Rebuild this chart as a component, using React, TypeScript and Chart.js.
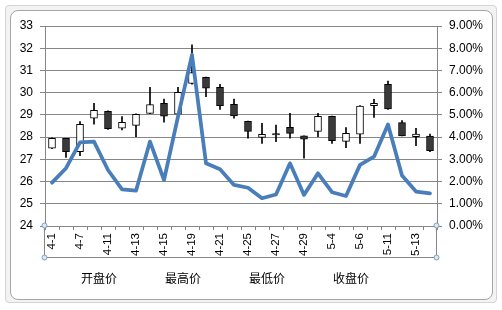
import React, { useEffect, useRef } from 'react';
import { Chart, registerables } from 'chart.js';

Chart.register(...registerables);

const categories = ['4-1', '4-6', '4-7', '4-8', '4-11', '4-12', '4-13', '4-14', '4-15', '4-18', '4-19', '4-20', '4-21', '4-22', '4-25', '4-26', '4-27', '4-28', '4-29', '5-3', '5-4', '5-5', '5-6', '5-9', '5-11', '5-12', '5-13', '5-16'];
const openPrices = [27.5, 27.95, 27.35, 28.85, 29.16, 28.4, 28.53, 29.07, 29.52, 29.03, 30.42, 30.69, 30.24, 29.48, 28.71, 27.99, 28.16, 28.44, 28.06, 28.26, 28.94, 27.81, 28.13, 29.41, 30.38, 28.65, 28.02, 28.05];
const closePrices = [27.95, 27.35, 28.58, 29.2, 28.38, 28.67, 29.03, 29.46, 28.94, 30.02, 30.9, 30.2, 29.42, 28.95, 28.26, 28.13, 28.1, 28.17, 27.91, 28.94, 27.84, 28.17, 29.4, 29.52, 29.27, 28.05, 28.14, 27.39];
const highPrices = [27.97, 27.95, 28.7, 29.52, 29.18, 28.92, 29.05, 30.24, 29.71, 30.24, 32.15, 30.7, 30.38, 29.71, 28.72, 28.62, 28.54, 29.07, 28.06, 29.07, 28.95, 28.43, 29.42, 29.7, 30.52, 28.74, 28.4, 28.14];
const lowPrices = [27.48, 27.09, 27.17, 28.58, 28.35, 28.32, 28.02, 29.05, 28.67, 29.0, 30.38, 29.82, 29.25, 28.85, 27.95, 27.72, 27.8, 27.95, 27.05, 28.02, 27.72, 27.53, 27.72, 28.89, 29.25, 28.05, 27.61, 27.35];
const swingPct = [1.95, 2.6, 3.76, 3.8, 2.52, 1.65, 1.59, 3.8, 2.07, 4.92, 7.7, 2.82, 2.55, 1.85, 1.72, 1.25, 1.42, 2.82, 1.4, 2.37, 1.52, 1.35, 2.75, 3.12, 4.57, 2.27, 1.55, 1.47];
const legendLabels = ['开盘价', '最高价', '最低价', '收盘价'];

const GRID = '#868686';

const selectionBox = {
  id: 'selectionBox',
  afterLayout(chart: any) {
    // Excel places the legend block slightly right of the plot's left edge
    const lg = chart.legend;
    if (lg) {
      lg.left += 21;
      lg.right += 21;
    }
  },
  afterDraw(chart: any) {
    const { ctx, chartArea } = chart;
    const xs = chart.scales.x;
    const l = Math.round(chartArea.left) - 0.5;
    const r = Math.round(chartArea.right) - 0.5;
    const t = Math.round(chartArea.bottom) - 0.5;
    const b = Math.round(xs.bottom) - 0.5;
    ctx.save();
    ctx.strokeStyle = GRID;
    ctx.lineWidth = 1;
    ctx.beginPath();
    ctx.moveTo(l, t);
    ctx.lineTo(l, b);
    ctx.lineTo(r, b);
    ctx.lineTo(r, t);
    ctx.stroke();
    const pts = [[l, t], [r, t], [l, b], [r, b]];
    pts.forEach(([x, y]) => {
      ctx.beginPath();
      ctx.arc(x, y, 2.5, 0, Math.PI * 2);
      ctx.fillStyle = '#dce6f2';
      ctx.fill();
      ctx.strokeStyle = '#7f9db9';
      ctx.stroke();
    });
    ctx.restore();
  },
};

export default function App() {
  const ref = useRef<HTMLCanvasElement>(null);

  useEffect(() => {
    if (!ref.current) return;
    Chart.defaults.font.family = '"Liberation Sans", Arial, sans-serif';
    const chart = new Chart(ref.current, {
      type: 'bar',
      data: {
        labels: categories,
        datasets: [
          {
            type: 'line',
            label: '振幅',
            data: swingPct,
            yAxisID: 'y1',
            borderColor: '#4a7ebb',
            borderWidth: 3.75,
            pointRadius: 0,
            tension: 0,
            borderJoinStyle: 'round',
            borderCapStyle: 'round',
            order: 0,
          } as any,
          {
            label: 'body',
            data: openPrices.map((o, i) => [o, closePrices[i]]),
            yAxisID: 'y',
            backgroundColor: openPrices.map((o, i) => (closePrices[i] >= o ? '#ffffff' : '#3a3a3a')),
            borderColor: '#000000',
            borderWidth: 1,
            borderSkipped: false,
            barThickness: 7,
            grouped: false,
            order: 1,
          } as any,
          {
            label: 'wick',
            data: lowPrices.map((lo, i) => [lo, highPrices[i]]),
            yAxisID: 'y',
            backgroundColor: '#000000',
            borderWidth: 0,
            barThickness: 1,
            grouped: false,
            order: 2,
          } as any,
        ],
      },
      options: {
        responsive: false,
        animation: false,
        devicePixelRatio: 1,
        layout: { padding: { left: 12, right: 10, top: 26, bottom: 16 } },
        plugins: {
          tooltip: { enabled: false },
          legend: {
            position: 'bottom',
            align: 'start',
            onClick: () => {},
            labels: {
              padding: 14,
              boxWidth: 28,
              boxHeight: 12,
              color: '#000',
              font: { size: 12, family: '"Noto Sans CJK SC", sans-serif' },
              generateLabels: () =>
                legendLabels.map((t, i) => ({
                  text: t,
                  fillStyle: 'rgba(0,0,0,0)',
                  strokeStyle: 'rgba(0,0,0,0)',
                  lineWidth: 0,
                  hidden: false,
                  datasetIndex: i,
                })),
            },
          },
        },
        scales: {
          x: {
            type: 'category',
            offset: true,
            grid: { drawOnChartArea: false, drawTicks: true, tickLength: 4, color: GRID, offset: true },
            border: { color: GRID },
            ticks: {
              autoSkip: false,
              maxRotation: 90,
              minRotation: 90,
              padding: 3,
              color: '#000',
              font: { size: 11.5 },
              callback: (_v: any, i: number) => (i % 2 === 0 ? categories[i] : ''),
            },
            afterFit: (s: any) => {
              s.height = 32;
            },
          },
          y: {
            position: 'left',
            min: 24,
            max: 33,
            ticks: { stepSize: 1, padding: 7, color: '#000', font: { size: 12 } },
            grid: { color: GRID, tickLength: 5 },
            border: { color: GRID },
            afterFit: (s: any) => {
              s.width = 33;
            },
          },
          y1: {
            position: 'right',
            min: 0,
            max: 9,
            ticks: {
              stepSize: 1,
              padding: 7,
              color: '#000',
              font: { size: 12 },
              callback: (v: any) => Number(v).toFixed(2) + '%',
            },
            grid: { drawOnChartArea: false, tickLength: 5, color: GRID },
            border: { color: GRID },
            afterFit: (s: any) => {
              s.width = 55;
            },
          },
        },
      } as any,
      plugins: [selectionBox],
    });
    return () => chart.destroy();
  }, []);

  return (
    <div style={{ position: 'fixed', left: 0, top: 0, width: 502, height: 310, background: '#ffffff', overflow: 'hidden' }}>
      <div style={{ position: 'absolute', left: 5, top: 5, width: 490, height: 296, border: '1px solid #d4d4d4', borderRadius: 4, background: '#f3f3f3' }} />
      <div style={{ position: 'absolute', left: 10, top: 10, width: 481, height: 288, border: '1px solid #a6a6a6', borderRadius: 8, background: '#ffffff' }} />
      <canvas ref={ref} width={502} height={310} style={{ position: 'absolute', left: 0, top: 0, width: 502, height: 310 }} />
    </div>
  );
}
